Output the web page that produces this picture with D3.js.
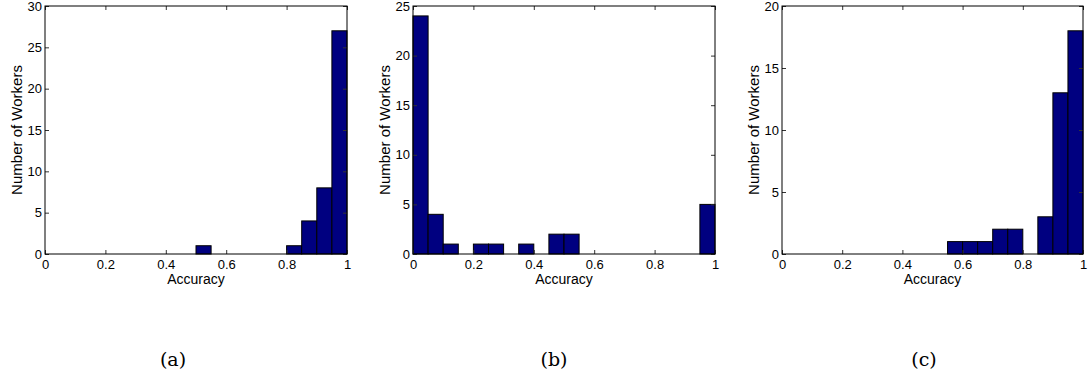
<!DOCTYPE html>
<html>
<head>
<meta charset="utf-8">
<script src="https://cdn.jsdelivr.net/npm/d3@7"></script>
<style>
  body { margin: 0; background: #fff; }
  svg { display: block; }
</style>
</head>
<body>
<svg id="fig" width="1089" height="381"></svg>
<script>
// bin edges: 20 bins of width 0.05 from 0 to 1
const binEdges = d3.range(0, 21).map(i => i / 20);
const xTicks = [0, 0.2, 0.4, 0.6, 0.8, 1];

// counts per bin
const countsA = [0,0,0,0,0, 0,0,0,0,0, 1,0,0,0,0, 0,1,4,8,27];
const countsB = [24,4,1,0,1, 1,0,1,0,2, 2,0,0,0,0, 0,0,0,0,5];
const countsC = [0,0,0,0,0, 0,0,0,0,0, 0,1,1,1,2, 2,0,3,13,18];

const yMaxA = 30, yMaxB = 25, yMaxC = 20;
const captions = ["(a)", "(b)", "(c)"];

const panels = [
  { counts: countsA, yMax: yMaxA, left: 45, right: 347, cap: captions[0], capX: 173 },
  { counts: countsB, yMax: yMaxB, left: 413, right: 715, cap: captions[1], capX: 554 },
  { counts: countsC, yMax: yMaxC, left: 782, right: 1083, cap: captions[2], capX: 924 }
];

const plotTop = 6, plotBottom = 254;
const sans = '"Liberation Sans", Arial, Helvetica, sans-serif';
const svg = d3.select('#fig');

panels.forEach(p => {
  const x = d3.scaleLinear().domain([0, 1]).range([p.left, p.right]);
  const y = d3.scaleLinear().domain([0, p.yMax]).range([plotBottom, plotTop]);
  const g = svg.append('g');

  // bars (zero bins show up as a line on the baseline)
  g.selectAll('rect').data(p.counts).enter().append('rect')
    .attr('x', (d, i) => x(binEdges[i]))
    .attr('width', (d, i) => x(binEdges[i + 1]) - x(binEdges[i]))
    .attr('y', d => y(d))
    .attr('height', d => plotBottom - y(d))
    .attr('fill', '#000080')
    .attr('stroke', '#000')
    .attr('stroke-width', 1);

  const yTicks = d3.range(0, p.yMax + 1, 5);
  const style = a => a.attr('font-family', sans).attr('font-size', 13)
    .call(s => s.select('.domain').remove())
    .call(s => s.selectAll('.tick line').attr('stroke', '#333'));

  // axes with inward ticks
  g.append('g').attr('transform', `translate(0,${plotBottom})`)
    .call(d3.axisBottom(x).tickValues(xTicks).tickFormat(d3.format('')).tickSizeInner(-4).tickSizeOuter(0).tickPadding(6))
    .call(style);
  g.append('g').attr('transform', `translate(0,${plotTop})`)
    .call(d3.axisTop(x).tickValues(xTicks).tickFormat('').tickSizeInner(-4).tickSizeOuter(0))
    .call(style);
  g.append('g').attr('transform', `translate(${p.left},0)`)
    .call(d3.axisLeft(y).tickValues(yTicks).tickSizeInner(-4).tickSizeOuter(0).tickPadding(3))
    .call(style);
  g.append('g').attr('transform', `translate(${p.right},0)`)
    .call(d3.axisRight(y).tickValues(yTicks).tickFormat('').tickSizeInner(-4).tickSizeOuter(0))
    .call(style);

  // box
  g.append('rect')
    .attr('x', p.left).attr('y', plotTop)
    .attr('width', p.right - p.left).attr('height', plotBottom - plotTop)
    .attr('fill', 'none').attr('stroke', '#000').attr('stroke-width', 1);

  g.append('text')
    .attr('x', (p.left + p.right) / 2).attr('y', 284)
    .attr('text-anchor', 'middle')
    .attr('font-family', sans).attr('font-size', 14)
    .text('Accuracy');

  g.append('text')
    .attr('transform', `translate(${p.left - 23},${(plotTop + plotBottom) / 2}) rotate(-90)`)
    .attr('text-anchor', 'middle')
    .attr('font-family', sans).attr('font-size', 15)
    .text('Number of Workers');

  svg.append('text')
    .attr('x', p.capX).attr('y', 366)
    .attr('text-anchor', 'middle')
    .attr('font-family', '"DejaVu Serif", "Liberation Serif", serif').attr('font-size', 19)
    .text(p.cap);
});
</script>
</body>
</html>
